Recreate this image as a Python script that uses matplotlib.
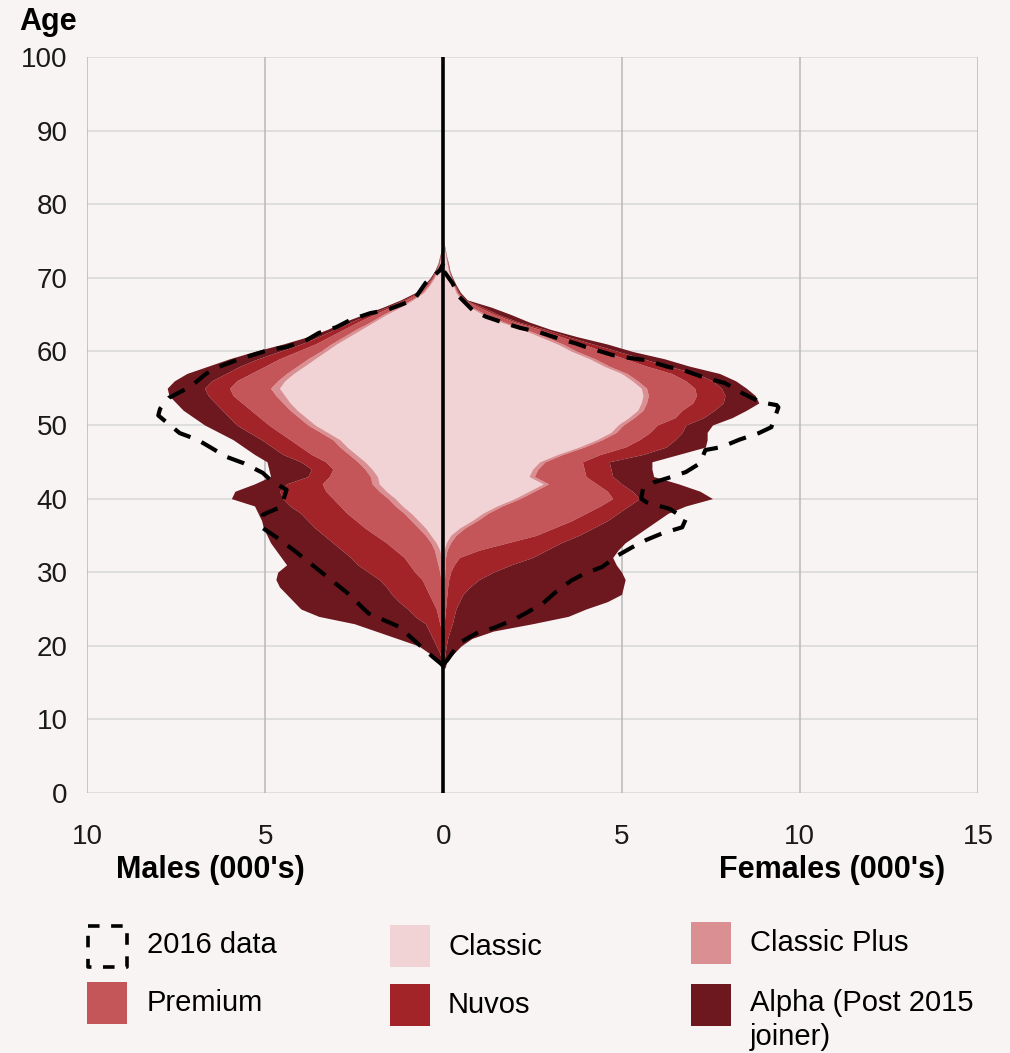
import numpy as np
import matplotlib
matplotlib.use("Agg")
import matplotlib.pyplot as plt
from matplotlib.patches import Rectangle
from matplotlib.lines import Line2D

plt.rcParams['font.family'] = ['Liberation Sans', 'DejaVu Sans']

# ages (single years)
ages = list(range(17, 76))

# males (000's) per layer, by age 17..75
male_classic = [0, 0, 0, 0, 0, 0, 0, 0, 0, 0, 0, 0, 0, 0, 0.02, 0.05, 0.1, 0.2, 0.35, 0.5,
                0.7, 0.9, 1.15, 1.35, 1.6, 1.8, 1.85, 2.0, 2.2, 2.45, 2.7, 2.9, 3.25, 3.6, 3.85, 4.1,
                4.3, 4.45, 4.6, 4.45, 4.2, 3.9, 3.6, 3.3, 3.0, 2.65, 2.3, 1.95, 1.6, 1.2, 0.85, 0.55,
                0.38, 0.25, 0.16, 0.1, 0.06, 0.03, 0]
male_classic_plus = [0, 0, 0, 0, 0, 0, 0, 0, 0, 0.02, 0.03, 0.05, 0.07, 0.1, 0.13, 0.15, 0.15, 0.15,
                     0.15, 0.2, 0.2, 0.2, 0.2, 0.2, 0.2, 0.2, 0.2, 0.2, 0.2, 0.2, 0.2, 0.2, 0.2, 0.2,
                     0.2, 0.2, 0.2, 0.25, 0.25, 0.2, 0.2, 0.2, 0.2, 0.15, 0.15, 0.15, 0.15, 0.1, 0.1,
                     0.1, 0.05, 0.05, 0.04, 0.03, 0.02, 0.01, 0.01, 0.005, 0]
male_premium = [0, 0, 0, 0, 0.02, 0.05, 0.1, 0.15, 0.2, 0.28, 0.37, 0.45, 0.53, 0.7, 0.8, 0.9, 1.1,
                1.25, 1.4, 1.5, 1.55, 1.6, 1.55, 1.55, 1.5, 1.4, 1.15, 0.9, 0.9, 1.05, 1.1, 1.2, 1.15,
                1.1, 1.1, 1.1, 1.15, 1.2, 1.15, 1.15, 1.0, 0.9, 0.8, 0.65, 0.45, 0.4, 0.35, 0.35,
                0.25, 0.2, 0.15, 0.08, 0.05, 0.03, 0.02, 0.02, 0.01, 0.005, 0]
male_nuvos = [0, 0.05, 0.1, 0.2, 0.28, 0.35, 0.4, 0.65, 0.8, 0.95, 1.05, 1.1, 1.2, 1.3, 1.45, 1.5,
              1.5, 1.5, 1.45, 1.4, 1.35, 1.3, 1.4, 1.4, 1.3, 1.0, 0.6, 0.6, 0.7, 0.8, 0.8, 0.8, 0.85,
              0.9, 0.85, 0.8, 0.75, 0.7, 0.7, 0.7, 0.7, 0.7, 0.6, 0.5, 0.4, 0.3, 0.25, 0.2, 0.15,
              0.1, 0.07, 0.04, 0.03, 0.03, 0.02, 0.01, 0.01, 0.005, 0]
male_alpha = [0.05, 0.15, 0.3, 0.5, 1.0, 1.5, 2.0, 2.7, 3.0, 2.95, 2.95, 3.0, 2.9, 2.55, 2.0, 1.95,
              1.85, 1.75, 1.6, 1.45, 1.3, 1.2, 1.0, 1.45, 1.25, 0.9, 1.05, 1.2, 0.95, 0.8, 0.8, 0.8,
              0.85, 0.9, 1.0, 1.1, 1.1, 1.1, 1.05, 1.05, 1.1, 0.9, 0.8, 0.7, 0.5, 0.3, 0.2, 0.2,
              0.15, 0.1, 0.08, 0.06, 0.05, 0.03, 0.02, 0.01, 0.01, 0.005, 0]

# females (000's) per layer, by age 17..75
female_classic = [0, 0, 0, 0, 0, 0, 0, 0, 0, 0, 0, 0, 0, 0, 0, 0, 0.02, 0.08, 0.2, 0.45, 0.8, 1.1,
                  1.5, 2.0, 2.4, 2.8, 2.4, 2.5, 2.7, 3.2, 3.8, 4.3, 4.7, 4.9, 5.2, 5.45, 5.55, 5.6,
                  5.55, 5.3, 5.0, 4.5, 4.1, 3.6, 3.2, 2.7, 2.2, 1.6, 1.1, 0.75, 0.5, 0.35, 0.27, 0.2,
                  0.14, 0.1, 0.06, 0.03, 0]
female_classic_plus = [0, 0, 0, 0, 0, 0, 0, 0, 0, 0, 0, 0.02, 0.03, 0.04, 0.05, 0.06, 0.08, 0.12,
                       0.15, 0.15, 0.15, 0.15, 0.15, 0.15, 0.15, 0.15, 0.15, 0.15, 0.15, 0.15, 0.15,
                       0.15, 0.15, 0.15, 0.15, 0.15, 0.15, 0.15, 0.15, 0.15, 0.15, 0.15, 0.15, 0.15,
                       0.15, 0.15, 0.1, 0.1, 0.1, 0.05, 0.04, 0.03, 0.02, 0.02, 0.01, 0.01, 0.01,
                       0.005, 0]
female_premium = [0, 0, 0, 0, 0, 0, 0.02, 0.04, 0.06, 0.08, 0.1, 0.1, 0.12, 0.16, 0.25, 0.39, 0.9,
                  1.6, 2.25, 2.5, 2.65, 2.75, 2.75, 2.6, 2.05, 1.35, 1.45, 1.3, 1.05, 1.05, 1.15, 1.05,
                  0.95, 0.95, 1.15, 1.1, 1.3, 1.35, 1.35, 1.35, 1.25, 1.05, 0.85, 0.75, 0.55, 0.45,
                  0.4, 0.3, 0.25, 0.2, 0.04, 0.03, 0.02, 0.01, 0.01, 0.01, 0.005, 0.005, 0]
female_nuvos = [0, 0.02, 0.05, 0.08, 0.12, 0.18, 0.23, 0.26, 0.29, 0.37, 0.45, 0.63, 0.85, 1.2, 1.6,
                2.05, 1.9, 1.5, 1.2, 1.1, 1.0, 0.9, 0.8, 0.75, 0.7, 0.7, 0.75, 0.75, 0.75, 1.2, 1.15,
                1.0, 0.9, 0.8, 0.8, 0.9, 0.85, 0.8, 0.75, 0.75, 0.7, 0.6, 0.5, 0.4, 0.3, 0.2, 0.15,
                0.1, 0.1, 0.1, 0.04, 0.03, 0.02, 0.01, 0.01, 0.01, 0.005, 0.005, 0]
female_alpha = [0.05, 0.08, 0.25, 0.42, 0.68, 1.22, 2.25, 3.2, 3.65, 4.15, 4.45, 4.3, 4.1, 3.6, 2.95,
                2.25, 2.0, 1.8, 1.6, 1.5, 1.4, 1.4, 1.6, 2.05, 1.9, 1.6, 1.15, 1.15, 1.2, 1.0, 1.1,
                0.9, 0.7, 0.75, 0.8, 0.9, 1.0, 0.85, 0.7, 0.65, 0.65, 0.6, 0.6, 0.4, 0.4, 0.25, 0.15,
                0.3, 0.35, 0.25, 0.05, 0.04, 0.03, 0.02, 0.01, 0.01, 0.005, 0.005, 0]

# 2016 data outline
m2016_age = [17.3, 18.5, 19.8, 22.6, 24.4, 27.2, 30.3, 33, 34.8, 36, 37.8, 38.9, 41.2, 42.3, 43.5,
             44.8, 45.7, 47, 48, 48.9, 51.3, 52.2, 53.7, 55.2, 57, 57.9, 59, 59.5, 60.2, 60.6, 61.5,
             62.5, 63.3, 64.3, 65.2, 65.6, 66.6, 67.4, 69.3, 71, 72]
m2016_val = [0, 0.3, 0.6, 1.25, 2.1, 2.7, 3.5, 4.2, 4.7, 5.07, 5.07, 4.55, 4.4, 4.8, 5.07, 5.6, 6.1,
             6.55, 6.9, 7.4, 8.0, 7.95, 7.7, 7.1, 6.65, 6.3, 5.7, 5.35, 4.9, 4.4, 3.85, 3.5, 3.0,
             2.6, 2.05, 1.6, 1.05, 0.77, 0.5, 0.1, 0]
f2016_age = [17.5, 18, 20.4, 21.9, 22.4, 23.5, 24.4, 25.8, 27.3, 28.9, 29.9, 30.7, 32.3, 33.4, 34.4,
             35.3, 36.1, 37.2, 38.6, 39.5, 40.0, 41.3, 42.2, 42.8, 43.6, 44.8, 46.6, 47, 48, 48.9,
             49.7, 52.4, 52.7, 53.1, 54.3, 55.7, 56.4, 57.5, 57.9, 58.8, 59.2, 59.5, 60.6, 61.1,
             61.8, 62.6, 63.2, 63.8, 64.7, 65.6, 67.4, 69.3, 71]
f2016_val = [0, 0.1, 0.45, 1.0, 1.4, 1.95, 2.3, 2.8, 3.15, 3.6, 4.0, 4.45, 4.9, 5.3, 5.7, 6.15, 6.7,
             6.8, 6.35, 5.7, 5.55, 5.6, 5.9, 6.3, 6.8, 7.2, 7.35, 7.8, 8.3, 8.85, 9.2, 9.4, 9.35,
             8.9, 8.4, 7.9, 7.35, 6.7, 6.3, 5.7, 5.1, 4.75, 4.0, 3.7, 3.2, 2.7, 2.15, 1.75, 1.2,
             0.82, 0.45, 0.25, 0]

layer_names = ['Classic', 'Classic Plus', 'Premium', 'Nuvos', 'Alpha (Post 2015\njoiner)']
colors = ['#f2d3d5', '#da9092', '#c4565a', '#a22429', '#6d181e']
bg = '#f9f4f4'

W, H = 1010, 1053
fig = plt.figure(figsize=(W / 100, H / 100), dpi=100, facecolor=bg)
ax = fig.add_axes([87 / W, 1 - 793 / H, (978 - 87) / W, (793 - 57) / H])
ax.set_facecolor(bg)

y = np.array(ages)
male_layers = [male_classic, male_classic_plus, male_premium, male_nuvos, male_alpha]
female_layers = [female_classic, female_classic_plus, female_premium, female_nuvos, female_alpha]
mcum = np.cumsum(np.array(male_layers), axis=0)
fcum = np.cumsum(np.array(female_layers), axis=0)
for i in range(5):
    mlo = mcum[i - 1] if i > 0 else np.zeros(len(y))
    flo = fcum[i - 1] if i > 0 else np.zeros(len(y))
    ax.fill_betweenx(y, -mlo, -mcum[i], color=colors[i], lw=0, zorder=2 + 0.1 * i)
    ax.fill_betweenx(y, flo, fcum[i], color=colors[i], lw=0, zorder=2 + 0.1 * i)

dash = (4.3, 2.9)
ax.plot(-np.array(m2016_val), m2016_age, color='black', lw=3.0, dashes=dash, zorder=4)
ax.plot(f2016_val, f2016_age, color='black', lw=3.0, dashes=dash, zorder=4)

ax.axvline(0, color='black', lw=2.6, zorder=5)

ax.set_xlim(-10, 15)
ax.set_ylim(0, 100)
ax.set_xticks([-10, -5, 0, 5, 10, 15])
ax.set_xticklabels(['10', '5', '0', '5', '10', '15'])
ax.set_yticks(range(0, 101, 10))
for v in range(0, 101, 10):
    ax.axhline(v, color='#dcdcdc', lw=1.3, zorder=1)
for v in [-10, -5, 5, 10, 15]:
    ax.axvline(v, color='#b8b8b8', lw=1.1, zorder=1)
for s in ax.spines.values():
    s.set_visible(False)
ax.tick_params(axis='both', length=0, labelsize=20, colors='#1a1a1a')
ax.tick_params(axis='x', pad=22)
ax.tick_params(axis='y', pad=14)

fig.text(19 / W, 1 - 22 / H, 'Age', fontsize=22, fontweight='bold', va='center', ha='left')
fig.text(210 / W, 1 - 870 / H, "Males (000's)", fontsize=22, fontweight='bold', va='center', ha='center')
fig.text(832 / W, 1 - 870 / H, "Females (000's)", fontsize=22, fontweight='bold', va='center', ha='center')

# legend
def px(x, yy):
    return x / W, 1 - yy / H

pw, ph = 40 / W, 42 / H
# 2016 data dashed box
x0, y0 = px(88, 967)
x1, y1 = px(127, 926)
box = Line2D([x0, x1, x1, x0, x0], [y1, y1, y0, y0, y1], transform=fig.transFigure,
             color='black', lw=2.6, dashes=(3.2, 3.2))
fig.add_artist(box)
fig.text(147 / W, 1 - 945 / H, '2016 data', fontsize=21, va='center', ha='left')

leg = [(390, 925, 0, 448, 947), (691, 922, 1, 750, 943),
       (87, 982, 2, 147, 1003), (390, 984, 3, 448, 1005), (691, 984, 4, 750, 1020)]
for lx, ly, k, tx, ty in leg:
    fx, fy = px(lx, ly + 42)
    fig.patches.append(Rectangle((fx, fy), pw, ph, transform=fig.transFigure,
                                 facecolor=colors[k], edgecolor='none'))
    fig.text(tx / W, 1 - ty / H, layer_names[k], fontsize=21, va='center', ha='left',
             linespacing=1.3)

fig.savefig('out.png', dpi=100, facecolor=bg)
